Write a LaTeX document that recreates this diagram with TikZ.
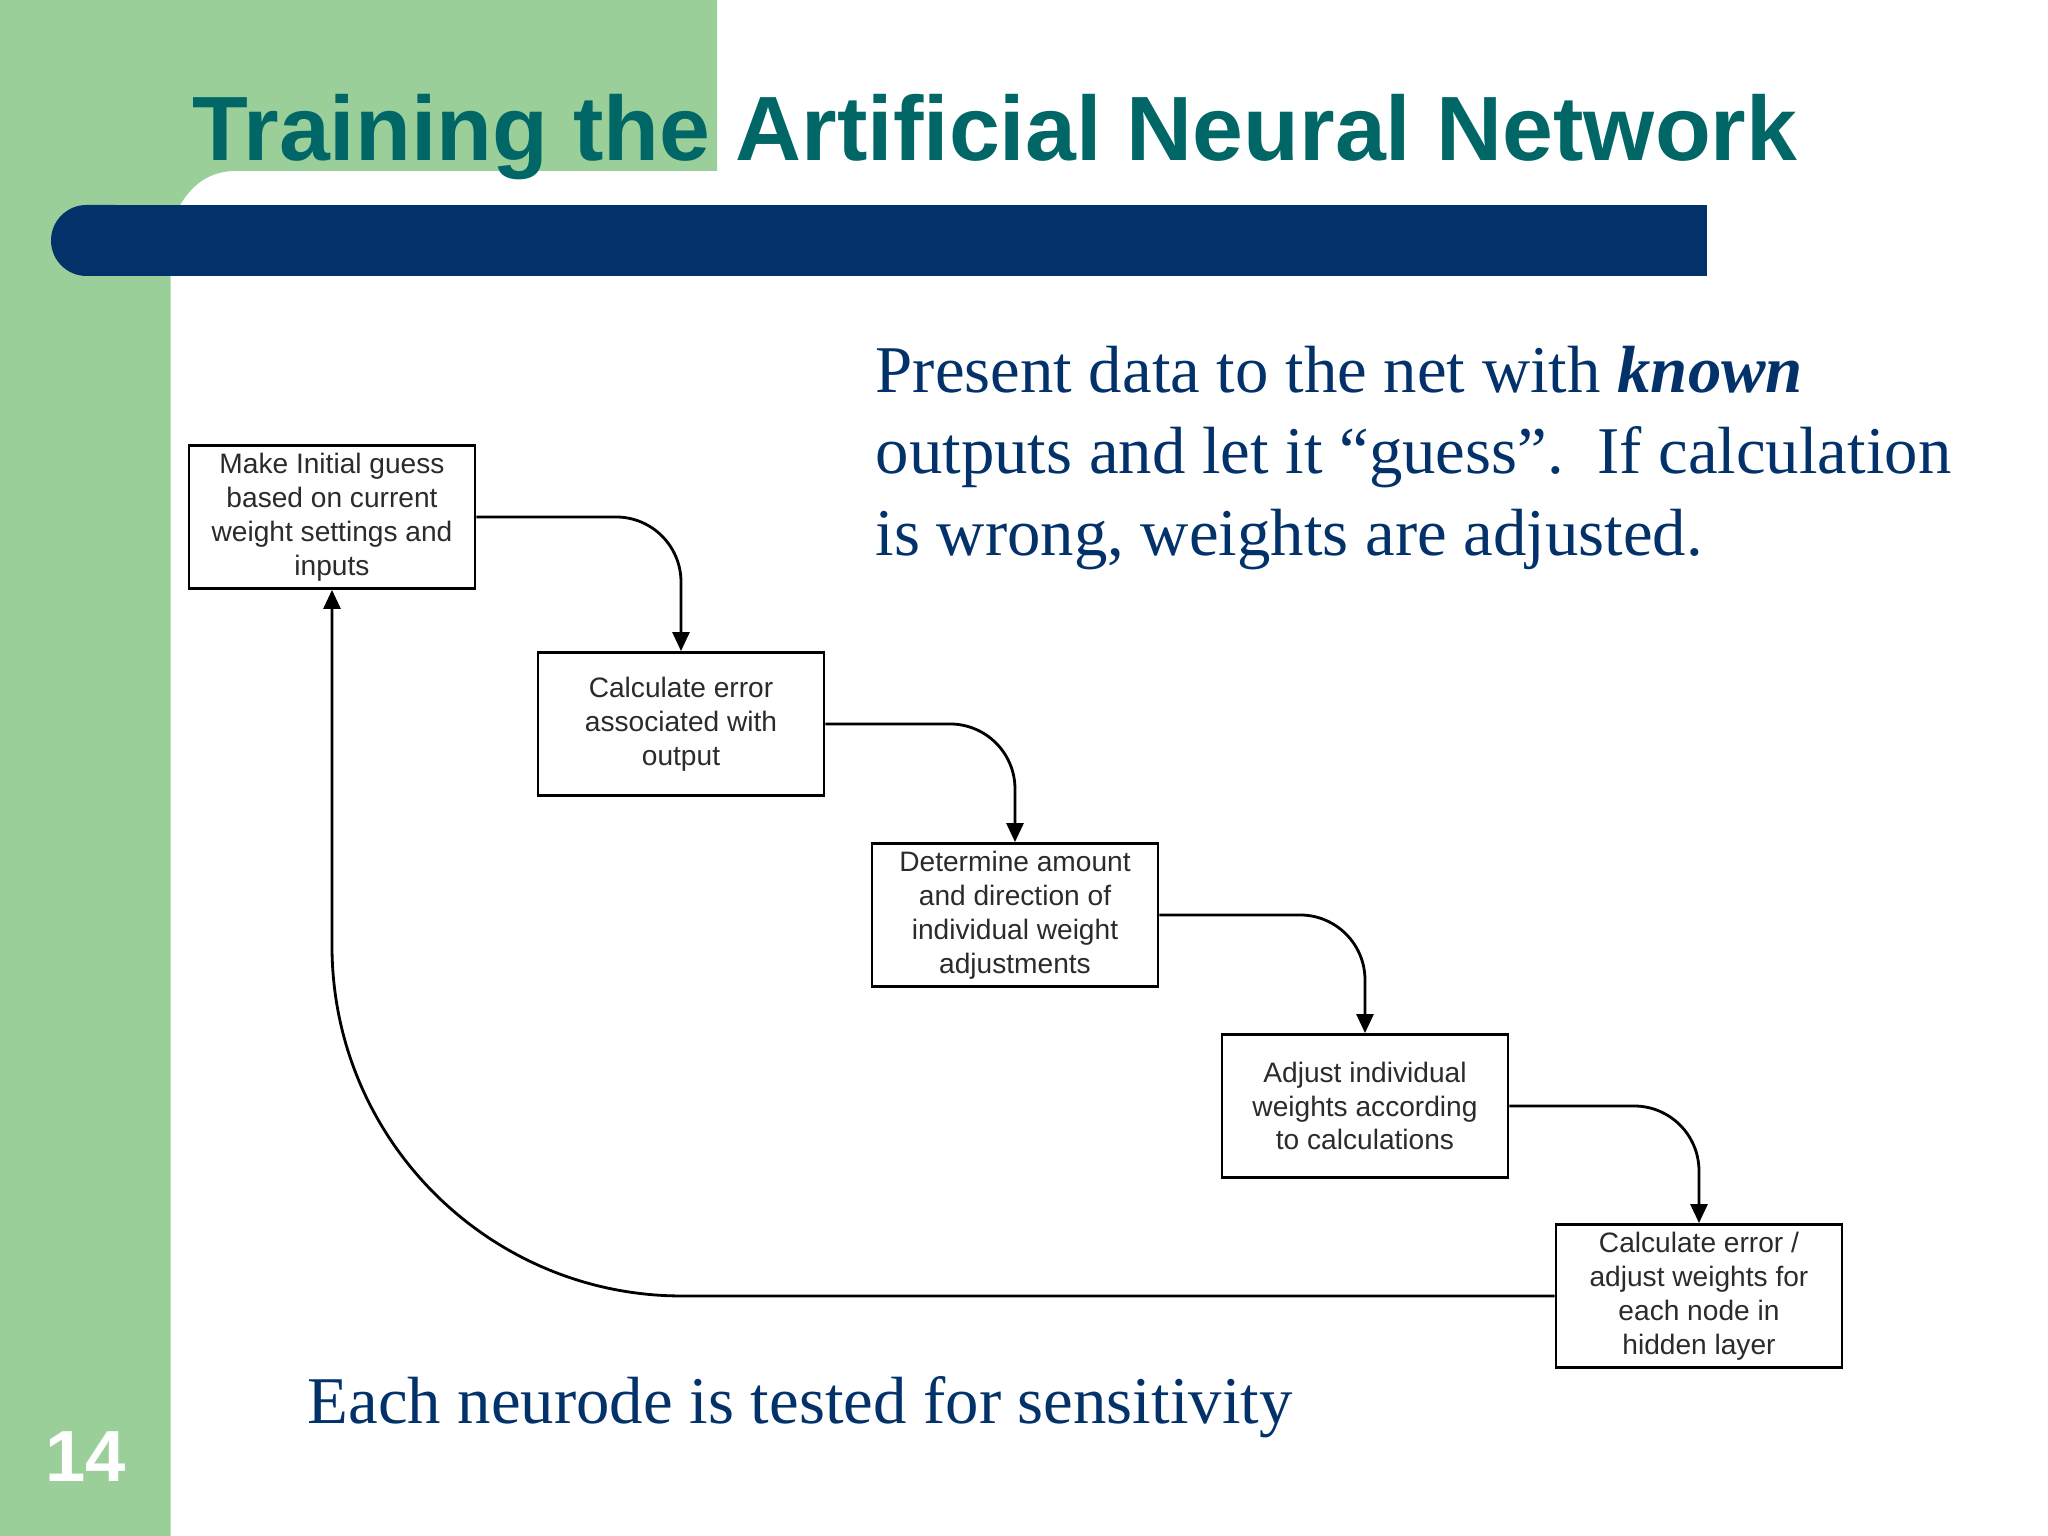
\documentclass[tikz,border=0pt]{standalone}
\usepackage{fontspec}
\setmainfont{Liberation Serif}
\setsansfont{Liberation Sans}
\usetikzlibrary{arrows.meta}

\definecolor{slidegreen}{HTML}{9BCF9A}
\definecolor{slidenavy}{HTML}{03326A}
\definecolor{slideteal}{HTML}{006666}
\definecolor{boxtext}{HTML}{2B2B2B}

\tikzset{
  stepbox/.style={draw=black, line width=0.8pt, fill=white, align=center, inner sep=0pt,
    minimum width=2.86cm, minimum height=1.43cm, text=boxtext,
    font=\sffamily\fontsize{8}{9.65}\selectfont},
  flow/.style={draw=black, line width=0.8pt, -{Triangle[length=1.9mm, width=1.7mm]}},
  bodytext/.style={text=slidenavy, align=left, inner sep=0pt,
    font=\fontsize{19}{23.3}\selectfont},
}

\begin{document}
\begin{tikzpicture}
    \useasboundingbox (0, 0) rectangle (20.48, 15.36);

    % background
    \fill [slidegreen] (0, 0) -- (0, 15.36) -- (7.17, 15.36) -- (7.17, 13.65)
      -- (2.35, 13.65) .. controls (2.05, 13.65) and (1.85, 13.45) .. (1.75, 13.2)
      -- (1.705, 12.6) -- (1.705, 0) -- cycle;

    % bar
    \fill [slidenavy, rounded corners=0.355cm] (0.51, 12.6) rectangle (1.5, 13.31);
    \fill [slidenavy] (0.9, 12.6) rectangle (17.07, 13.31);

    % title and number
    \node [anchor=base west, inner sep=0pt, text=slideteal, font=\sffamily\bfseries\fontsize{26}{30}\selectfont]
      (title) at (1.92, 13.75) {Training the Artificial Neural Network};
    \node [anchor=base, inner sep=0pt, text=white, font=\sffamily\bfseries\fontsize{20.6}{24}\selectfont]
      (slidenum) at (0.86, 0.54) {14};

    % text
    \node [bodytext, anchor=north west] (present) at (8.75, 11.91)
      {Present data to the net with \textbf{\textit{known}}\\
       outputs and let it “guess”.\ \ If calculation\\
       is wrong, weights are adjusted.};
    \node [bodytext, anchor=base west] (neurode) at (3.07, 1.12)
      {Each neurode is tested for sensitivity};

    % steps
    \node [stepbox] (guess) at (3.32, 10.19)
      {Make Initial guess\\ based on current\\ weight settings and\\ inputs};
    \node [stepbox] (error) at (6.81, 8.12)
      {Calculate error\\ associated with\\ output};
    \node [stepbox] (amount) at (10.15, 6.21)
      {Determine amount\\ and direction of\\ individual weight\\ adjustments};
    \node [stepbox] (adjust) at (13.65, 4.3)
      {Adjust individual\\ weights according\\ to calculations};
    \node [stepbox] (hidden) at (16.99, 2.4)
      {Calculate error /\\ adjust weights for\\ each node in\\ hidden layer};

    % arrows
    \draw [flow, rounded corners=0.65cm] (guess.east) -| (error.north);
    \draw [flow, rounded corners=0.65cm] (error.east) -| (amount.north);
    \draw [flow, rounded corners=0.65cm] (amount.east) -| (adjust.north);
    \draw [flow, rounded corners=0.65cm] (adjust.east) -| (hidden.north);
    \draw [flow, rounded corners=3.5cm] (hidden.west) -| (guess.south);
\end{tikzpicture}
\end{document}
